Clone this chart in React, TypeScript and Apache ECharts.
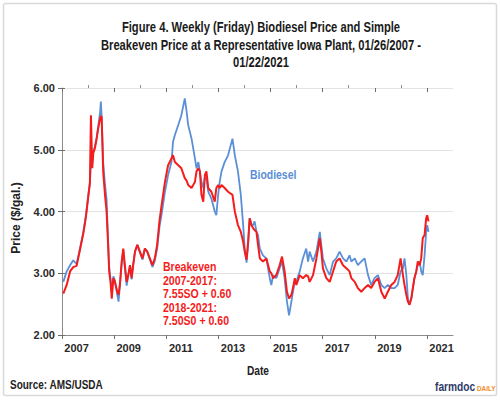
import { useEffect, useRef } from "react";
import * as echarts from "echarts";

// Decimal year of each reading (weekly series)
const years = [
  2007.05, 2007.18, 2007.31, 2007.43, 2007.56, 2007.69, 2007.82, 2007.92, 2008.01, 2008.07,
  2008.11, 2008.16, 2008.2, 2008.26, 2008.33, 2008.39, 2008.46, 2008.49, 2008.52, 2008.58,
  2008.65, 2008.71, 2008.77, 2008.81, 2008.86, 2008.91, 2008.97, 2009.03, 2009.12, 2009.17,
  2009.22, 2009.29, 2009.35, 2009.41, 2009.48, 2009.54, 2009.61, 2009.67, 2009.73, 2009.8,
  2009.89, 2009.99, 2010.09, 2010.18, 2010.27, 2010.37, 2010.47, 2010.56, 2010.65, 2010.74,
  2010.82, 2010.95, 2011.07, 2011.2, 2011.26, 2011.33, 2011.46, 2011.58, 2011.71, 2011.78,
  2011.84, 2011.97, 2012.1, 2012.16, 2012.23, 2012.29, 2012.35, 2012.42, 2012.48, 2012.54,
  2012.61, 2012.73, 2012.86, 2012.92, 2012.99, 2013.05, 2013.12, 2013.24, 2013.37, 2013.54,
  2013.63, 2013.75, 2013.86, 2013.95, 2014.01, 2014.08, 2014.14, 2014.2, 2014.27, 2014.33,
  2014.39, 2014.46, 2014.52, 2014.59, 2014.71, 2014.84, 2014.97, 2015.03, 2015.1, 2015.22,
  2015.35, 2015.44, 2015.54, 2015.63, 2015.71, 2015.8, 2015.86, 2015.93, 2015.99, 2016.12,
  2016.24, 2016.37, 2016.44, 2016.5, 2016.63, 2016.76, 2016.89, 2016.95, 2017.01, 2017.14,
  2017.27, 2017.4, 2017.52, 2017.65, 2017.78, 2017.91, 2018.03, 2018.1, 2018.23, 2018.35,
  2018.48, 2018.61, 2018.74, 2018.86, 2018.99, 2019.12, 2019.25, 2019.38, 2019.5, 2019.63,
  2019.76, 2019.88, 2019.99, 2020.08, 2020.14, 2020.21, 2020.27, 2020.33, 2020.4, 2020.46,
  2020.52, 2020.59, 2020.65, 2020.72, 2020.78, 2020.84, 2020.91, 2020.97, 2021.01, 2021.06,
];

const biodiesel = [
  2.86, 3.03, 3.13, 3.21, 3.15, 3.4, 3.67, 3.94, 4.27, 4.48,
  4.75, 4.8, 4.97, 5.05, 5.2, 5.38, 5.6, 5.78, 5.55, 4.8,
  4.43, 4.2, 3.5, 3.1, 2.92, 2.7, 2.95, 2.88, 2.65, 2.54,
  2.8, 3.15, 3.38, 3.1, 2.8, 2.95, 3.13, 2.9, 3.13, 3.35,
  3.46, 3.33, 3.22, 3.4, 3.35, 3.22, 3.1, 3.2, 3.4, 3.75,
  3.95, 4.32, 4.59, 4.8, 5.13, 5.24, 5.4, 5.56, 5.83, 5.62,
  5.4, 5.18, 4.86, 4.7, 4.8, 4.65, 4.48, 4.38, 4.54, 4.55,
  4.32, 4.21, 4.0, 3.94, 4.27, 4.48, 4.65, 4.8, 4.91, 5.18,
  4.91, 4.65, 4.27, 3.78, 3.4, 3.17, 3.46, 3.89, 3.78, 3.78,
  3.84, 3.67, 3.62, 3.4, 3.29, 3.24, 2.92, 2.81, 2.97, 2.92,
  3.08, 3.19, 2.92, 2.54, 2.32, 2.54, 2.7, 2.86, 2.86, 3.03,
  3.24, 3.4, 3.19, 3.35, 3.19, 3.35, 3.67, 3.45, 3.24, 3.08,
  2.97, 3.19, 3.24, 3.35, 3.24, 3.19, 3.29, 3.19, 3.24, 3.13,
  3.19, 3.24, 2.97, 2.81, 2.92, 2.97, 2.81, 2.76, 2.81, 2.76,
  2.76, 2.81, 3.03, 3.08, 3.24, 2.97, 2.59, 2.49, 2.59, 2.76,
  2.92, 3.03, 3.13, 3.19, 3.03, 2.97, 3.29, 3.67, 3.78, 3.67,
];

const breakeven = [
  2.67, 2.81, 3.03, 3.1, 3.12, 3.38, 3.65, 3.92, 4.25, 4.45,
  5.56, 4.7, 4.95, 5.02, 5.18, 5.35, 5.5, 5.54, 5.54, 4.65,
  4.27, 4.0, 3.45, 3.03, 2.86, 2.59, 2.92, 2.86, 2.7, 2.65,
  2.81, 3.19, 3.4, 3.13, 2.86, 2.97, 3.13, 2.92, 3.13, 3.35,
  3.46, 3.35, 3.24, 3.4, 3.35, 3.24, 3.13, 3.24, 3.46, 3.85,
  4.1, 4.48, 4.75, 4.86, 4.91, 4.8, 4.75, 4.7, 4.54, 4.5,
  4.43, 4.38, 4.48, 4.65, 4.7, 4.65, 4.27, 4.16, 4.59, 4.65,
  4.38, 4.32, 4.16, 4.38, 4.43, 4.38, 4.43, 4.38, 4.32, 4.27,
  4.0, 3.78, 3.67, 3.51, 3.35, 3.22, 3.51, 3.89, 3.78, 3.73,
  3.7, 3.67, 3.46, 3.24, 3.19, 3.24, 3.03, 3.0, 2.92, 2.97,
  3.13, 3.27, 3.03, 2.7, 2.59, 2.65, 2.76, 2.92, 2.81, 2.97,
  2.92, 2.97, 2.95, 2.86, 2.97, 3.24, 3.57, 3.35, 3.08, 2.92,
  2.86, 3.03, 3.19, 3.24, 3.13, 3.08, 3.03, 2.92, 2.86, 2.76,
  2.7, 2.76, 2.81, 2.76, 2.86, 2.92, 2.7, 2.59, 2.7, 2.81,
  2.86, 2.97, 3.24, 2.97, 2.81, 2.65, 2.54, 2.49, 2.59, 2.76,
  2.92, 3.03, 3.19, 3.13, 3.24, 3.57, 3.62, 3.89, 3.94, 3.84,
];

const majorTickYears = [2007, 2009, 2011, 2013, 2015, 2017, 2019, 2021];
const minorTickYears = [2008, 2010, 2012, 2014, 2016, 2018, 2020];
const yearLabels = ["2007", "2009", "2011", "2013", "2015", "2017", "2019", "2021"];
const titleLines = [
  "Figure 4. Weekly (Friday) Biodiesel Price and Simple",
  "Breakeven Price at a Representative Iowa Plant, 01/26/2007 -",
  "01/22/2021",
];
const breakevenNote = [
  "Breakeven",
  "2007-2017:",
  "7.55SO + 0.60",
  "2018-2021:",
  "7.50S0 + 0.60",
];

const FONT = 'Arial, "Liberation Sans", sans-serif';
const BLUE = "#5b8fd6";
const RED = "#f51c1c";

export default function App() {
  const ref = useRef<HTMLDivElement>(null);
  useEffect(() => {
    const chart = echarts.init(ref.current!, null, { renderer: "svg" });
    const labelPos = yearLabels.map((y) => Number(y) + 0.56);
    const zip = (vals: number[]) => years.map((y, i) => [y, vals[i]]);

    const graphic: any[] = [
      {
        type: "rect",
        shape: { x: 3.5, y: 3.5, width: 493, height: 392, r: 2 },
        style: { fill: "none", stroke: "#d9d9d9", lineWidth: 1.5 },
        silent: true,
      },
      ...titleLines.map((t, i) => ({
        type: "text",
        x: 261,
        y: 28 + i * 17.5,
        scaleX: 0.8,
        style: {
          text: t,
          fill: "#1a1a1a",
          font: `bold 14px ${FONT}`,
          textAlign: "center",
          textVerticalAlign: "middle",
        },
      })),
      {
        type: "text",
        x: 16,
        y: 218,
        rotation: Math.PI / 2,
        style: {
          text: "Price ($/gal.)",
          fill: "#222",
          font: `bold 12px ${FONT}`,
          textAlign: "center",
          textVerticalAlign: "middle",
        },
      },
      {
        type: "text",
        x: 258,
        y: 371,
        scaleX: 0.85,
        style: {
          text: "Date",
          fill: "#222",
          font: `bold 12px ${FONT}`,
          textAlign: "center",
          textVerticalAlign: "middle",
        },
      },
      {
        type: "text",
        x: 10,
        y: 385,
        scaleX: 0.8,
        style: {
          text: "Source: AMS/USDA",
          fill: "#222",
          font: `bold 12.5px ${FONT}`,
          textAlign: "left",
          textVerticalAlign: "middle",
        },
      },
      {
        type: "text",
        x: 435,
        y: 387,
        scaleX: 0.85,
        style: {
          text: "farmdoc",
          fill: "#2f3a68",
          font: `bold 12px ${FONT}`,
          textAlign: "left",
          textVerticalAlign: "middle",
        },
      },
      {
        type: "text",
        x: 477,
        y: 388,
        scaleX: 0.85,
        style: {
          text: "DAILY",
          fill: "#f08a24",
          font: `bold 7.5px ${FONT}`,
          textAlign: "left",
          textVerticalAlign: "middle",
        },
      },
      {
        type: "text",
        x: 250,
        y: 175,
        scaleX: 0.87,
        style: {
          text: "Biodiesel",
          fill: BLUE,
          font: `bold 12px ${FONT}`,
          textAlign: "left",
          textVerticalAlign: "middle",
        },
      },
      ...breakevenNote.map((t, i) => ({
        type: "text",
        x: 163,
        y: 267 + i * 13.5,
        scaleX: 0.88,
        style: {
          text: t,
          fill: RED,
          font: `bold 12px ${FONT}`,
          textAlign: "left",
          textVerticalAlign: "middle",
        },
      })),
    ];

    const baseX = {
      type: "value",
      min: 2007,
      max: 2022,
      gridIndex: 0,
      splitLine: { show: false },
    };

    chart.setOption({
      animation: false,
      backgroundColor: "#ffffff",
      grid: { left: 62, right: 47, top: 88, bottom: 65, containLabel: false },
      xAxis: [
        {
          ...baseX,
          interval: 1,
          axisLine: { show: true, lineStyle: { color: "#8c8c8c", width: 1 } },
          axisTick: {
            show: true,
            customValues: majorTickYears,
            length: 4,
            lineStyle: { color: "#6e6e6e" },
          },
          axisLabel: {
            show: true,
            customValues: labelPos,
            formatter: (v: number) => String(Math.floor(v)),
            color: "#2a2a2a",
            fontFamily: FONT,
            fontWeight: "bold",
            fontSize: 11,
            margin: 7,
          },
        },
        {
          ...baseX,
          interval: 1,
          axisLine: { show: false },
          axisTick: {
            show: true,
            inside: true,
            customValues: majorTickYears,
            length: 4,
            lineStyle: { color: "#6e6e6e" },
          },
          axisLabel: { show: false },
        },
        {
          ...baseX,
          interval: 1,
          axisLine: { show: false },
          axisTick: {
            show: true,
            customValues: minorTickYears,
            length: 3,
            lineStyle: { color: "#8c8c8c" },
          },
          axisLabel: { show: false },
        },
      ],
      yAxis: [
        {
          type: "value",
          min: 2,
          max: 6,
          interval: 1,
          axisLine: { show: true, lineStyle: { color: "#8c8c8c", width: 1 } },
          axisTick: { show: true, length: 4, lineStyle: { color: "#6e6e6e" } },
          splitLine: { show: true, lineStyle: { color: "#e3e3e3", width: 1 } },
          axisLabel: {
            formatter: (v: number) => v.toFixed(2),
            color: "#2a2a2a",
            fontFamily: FONT,
            fontWeight: "bold",
            fontSize: 11,
            margin: 7,
          },
        },
        {
          type: "value",
          min: 2,
          max: 6,
          interval: 1,
          position: "left",
          axisLine: { show: false },
          axisTick: { show: true, inside: true, length: 3, lineStyle: { color: "#6e6e6e" } },
          splitLine: { show: false },
          axisLabel: { show: false },
        },
      ],
      series: [
        {
          name: "Biodiesel",
          type: "line",
          data: zip(biodiesel),
          showSymbol: false,
          symbol: "none",
          lineStyle: { color: BLUE, width: 1.8 },
          xAxisIndex: 0,
          yAxisIndex: 0,
          z: 3,
        },
        {
          name: "Breakeven",
          type: "line",
          data: zip(breakeven),
          showSymbol: false,
          symbol: "none",
          lineStyle: { color: RED, width: 2 },
          xAxisIndex: 0,
          yAxisIndex: 0,
          z: 4,
        },
      ],
      graphic,
    });
    return () => chart.dispose();
  }, []);
  return (
    <div
      ref={ref}
      style={{ position: "fixed", left: 0, top: 0, width: 500, height: 400 }}
    />
  );
}
